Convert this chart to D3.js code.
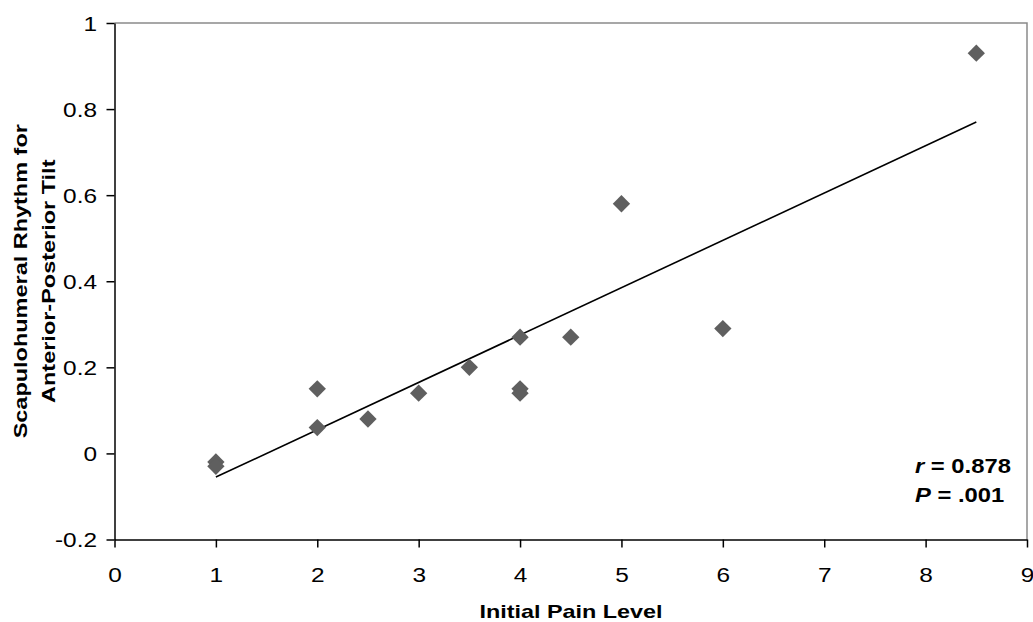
<!DOCTYPE html>
<html lang="en">
<head>
<meta charset="UTF-8">
<title>Initial Pain Level vs Scapulohumeral Rhythm</title>
<script src="https://d3js.org/d3.v7.min.js"></script>
<style>
  body { margin: 0; background: #fff; }
  svg { display: block; font-family: "Liberation Sans", Arial, sans-serif; }
</style>
</head>
<body>
<svg id="chart" width="1033" height="622"></svg>
<script>
// data
const painLevel = [1, 1, 2, 2, 2.5, 3, 3.5, 4, 4, 4, 4.5, 5, 6, 8.5];
const rhythm = [-0.02, -0.03, 0.15, 0.06, 0.08, 0.14, 0.2, 0.27, 0.15, 0.14, 0.27, 0.58, 0.29, 0.93];
const trendX = [1, 8.5];
const trendY = [-0.055, 0.77];
const xTicks = [0, 1, 2, 3, 4, 5, 6, 7, 8, 9];
const yTicks = [-0.2, 0, 0.2, 0.4, 0.6, 0.8, 1];
const yTitleLines = ["Scapulohumeral Rhythm for", "Anterior-Posterior Tilt"];
const statLines = [["r", " = 0.878"], ["P", " = .001"]];

const svg = d3.select("#chart");
const plotL = 114.5, plotR = 1027, plotT = 23, plotB = 539.5;

// the original font is wider than Liberation Sans, stretch the text a bit
function widen(sel, k) {
    sel.each(function () {
        const len = this.getComputedTextLength();
        d3.select(this).attr("textLength", len * k).attr("lengthAdjust", "spacingAndGlyphs");
    });
}

const x = d3.scaleLinear().domain([0, 9]).range([plotL, plotR]);
const y = d3.scaleLinear().domain([-0.2, 1]).range([plotB, plotT]);

// top and right frame in grey
svg.append("path")
    .attr("d", `M${plotL},${plotT}H${plotR}V${plotB}`)
    .attr("fill", "none")
    .attr("stroke", "#8a8a8a")
    .attr("stroke-width", 1.5);

const xAxis = svg.append("g")
    .attr("transform", `translate(0,${plotB})`)
    .call(d3.axisBottom(x).tickValues(xTicks).tickSize(8).tickSizeOuter(0).tickPadding(20)
        .tickFormat(d => String(d)));

const yAxis = svg.append("g")
    .attr("transform", `translate(${plotL},0)`)
    .call(d3.axisLeft(y).tickValues(yTicks).tickSize(8).tickSizeOuter(0).tickPadding(9.5)
        .tickFormat(d => String(d)));

[xAxis, yAxis].forEach(g => {
    g.select(".domain").attr("stroke", "#000").attr("stroke-width", 1.5);
    g.selectAll(".tick line").attr("stroke", "#000").attr("stroke-width", 1.5);
    g.selectAll(".tick text").attr("fill", "#000").style("font-size", "20px");
    widen(g.selectAll(".tick text"), 1.22);
});
yAxis.selectAll(".tick text").attr("dy", "0.35em");

// trend line
svg.append("line")
    .attr("x1", x(trendX[0])).attr("y1", y(trendY[0]))
    .attr("x2", x(trendX[1])).attr("y2", y(trendY[1]))
    .attr("stroke", "#000")
    .attr("stroke-width", 1.6);

// diamond markers
const diamond = d3.symbol().type(d3.symbolSquare).size(150);
svg.append("g")
    .selectAll("path")
    .data(painLevel.map((p, i) => ({ p, r: rhythm[i] })))
    .join("path")
    .attr("d", diamond)
    .attr("transform", d => `translate(${x(d.p)},${y(d.r)}) rotate(45)`)
    .attr("fill", "#5f5f5f");

// axis titles
const xTitle = svg.append("text")
    .attr("x", 571)
    .attr("y", 618)
    .attr("text-anchor", "middle")
    .style("font-size", "19px")
    .style("font-weight", "bold")
    .text("Initial Pain Level");
widen(xTitle, 1.23);

const yTitle = svg.append("g")
    .attr("transform", `translate(27,${(plotT + plotB) / 2}) rotate(-90)`)
    .selectAll("text")
    .data(yTitleLines)
    .join("text")
    .attr("x", 0)
    .attr("y", (d, i) => i * 28)
    .attr("text-anchor", "middle")
    .style("font-size", "19px")
    .style("font-weight", "bold")
    .text(d => d);
widen(yTitle, 1.235);

// stats annotation
const stats = svg.append("g").style("font-size", "19.5px").style("font-weight", "bold");
statLines.forEach((s, i) => {
    const t = stats.append("text")
        .attr("x", 915)
        .attr("y", 473 + i * 28.5);
    t.append("tspan").style("font-style", "italic").text(s[0]);
    t.append("tspan").text(s[1]);
    widen(t, 1.22);
});
</script>
</body>
</html>
